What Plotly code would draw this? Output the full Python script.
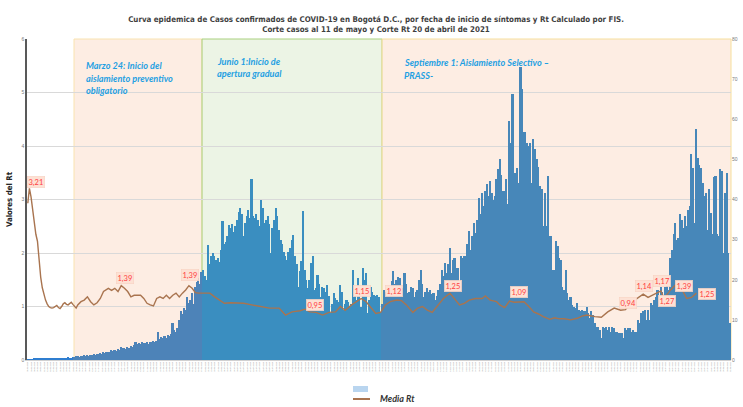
import plotly.graph_objects as go
import pandas as pd

# ---------------- DATA ----------------
start_date = "2020-03-01"

# daily confirmed cases by symptom-onset date, split in consecutive stretches
cases_pre_mar24 = [10, 15, 20, 25, 30, 40, 45, 50, 45, 50, 55, 50, 60, 55, 50,
                   60, 55, 50, 55, 60, 50, 55, 60, 50, 55, 65, 60, 55, 70]
cases_mar_may = [80, 90, 100, 85, 110, 95, 120, 100, 115, 105, 125,
                 130, 150, 120, 160, 140, 175, 150, 190, 170, 200,
                 210, 190, 240, 220, 260, 230, 280, 250, 330,
                 290, 310, 280, 330, 300, 350, 320, 370,
                 460, 400, 430, 410, 440, 420,
                 430, 450, 410, 460, 440, 470, 450, 480, 710,
                 520, 580, 540, 600, 560, 620, 590, 640, 920,
                 760, 700, 800,
                 1000, 1210, 1150, 1300, 1250,
                 1580, 1420, 1500, 1670, 1400, 1830,
                 1950, 2040, 1900, 2200]
cases_jun_jul = [2250, 2100, 2000, 2870, 2400, 2580, 2670, 2600, 2500, 2550,
                 2450, 2750, 3460, 2900, 2950, 3080, 3370, 3300, 3400, 3200,
                 3350, 3500, 3700, 3790, 3650, 3100, 3420, 3600, 3750, 3550,
                 4500, 3580, 3540, 3650, 3500, 3330]
cases_jul_dec = [4000, 3800, 3420, 3500, 3580, 3400, 2670, 3290, 3500, 3790,
                 3600, 3250, 3000, 2880, 2700, 2580, 2500, 2700, 2790, 3000,
                 3120, 2580, 2400, 1830, 2210, 2460, 3710, 2250, 2000, 1790,
                 2000, 2420, 2580, 1750, 1800, 2120, 1900, 1580, 1830, 1800,
                 1700, 1880, 1600, 1170, 1400, 1670, 1550, 1500, 1450, 1880,
                 1700, 1250, 1400, 1500, 1450, 1330, 1400, 2250, 1700, 1500,
                 2040, 1800, 1330, 2290, 2000, 2170, 1170, 1500, 1830, 1700,
                 1630, 1600, 1630, 1580, 1170, 1400, 1750, 1700, 1830, 1800,
                 1700, 1960, 2210, 1900, 2000, 2080, 2050, 1750, 1800, 2170,
                 1900, 1670, 1700, 1830, 1800, 1580, 1700, 1750, 2000, 2250,
                 1900, 1580, 1700, 1790, 1700, 1750, 1650, 1670, 1500, 1600,
                 1750, 1900, 2250, 2100, 2420, 2170, 2400, 2790, 2170, 2500,
                 2540, 2290, 2300, 1750, 2580, 2550, 2600, 2580, 2900, 3210,
                 2750, 3100, 3420, 3170, 3500, 4040, 3630, 4170, 3830, 4210,
                 4380, 4080, 4460, 4170, 4000]
cases_dec_may = [4080, 4500, 4750, 5000, 4600, 4210, 4210, 4500, 3900, 5960,
                 5420, 6630, 4670, 4670, 4790, 4420, 7290, 6750, 5670, 5670,
                 5420, 5330, 5420, 4420, 5500, 5250, 5000, 4800, 4330, 4250,
                 3330, 4150, 3330, 4580, 3080, 3080, 2250, 2250, 2960, 2830,
                 2540, 2500, 1830, 1750, 2250, 1670, 1500, 1580, 1380, 1330,
                 1290, 1420, 1250, 1210, 1250, 1230, 1230, 1330, 1170, 1040,
                 1210, 1130, 920, 830, 830, 750, 540, 830, 790, 830,
                 750, 830, 710, 830, 790, 710, 700, 670, 670, 670,
                 540, 790, 750, 790, 790, 710, 750, 710, 710, 1000,
                 920, 1170, 1210, 1250, 1000, 1250, 1000, 1420, 1380, 1500,
                 1580, 1750, 1500, 1830, 1700, 1580, 1830, 2080, 1750, 2540,
                 2750, 3130, 3420, 3000, 3040, 3630, 3500, 3290, 3580, 3330,
                 3750, 3830, 5130, 4790, 3420, 5750, 5030, 4850, 4790, 4400,
                 4080, 4170, 3250, 4250, 3670, 3130, 4560, 4580, 3130, 3080,
                 4750, 4710, 2670, 4170, 4670, 2670, 920]

# Media Rt (day offset from start_date, value)
rt_day = [0, 1, 2, 3, 4, 5, 6, 7, 8, 9, 10, 11, 12, 13, 14, 15, 16, 17, 18, 19,
          20, 21, 22, 23, 24, 25, 26, 27, 28, 29, 30, 31, 33, 35, 37, 39, 41, 43,
          45, 47, 50, 52, 54, 56, 58, 60, 62, 64, 66, 68, 70, 72, 74, 76, 78, 80,
          82, 84, 86, 88, 90, 92, 94, 96, 98, 100, 102, 104, 106, 110, 113, 116,
          119, 122, 126, 130, 134, 139, 144, 150, 156, 160, 164, 169, 172, 175,
          179, 183, 187, 191, 194, 197, 201, 204, 207, 210, 213, 216, 219, 222,
          225, 229, 232, 235, 239, 242, 245, 248, 251, 255, 258, 262, 265, 268,
          271, 274, 278, 282, 284, 287, 291, 293, 296, 299, 302, 305, 308, 311,
          314, 317, 320, 324, 327, 330, 333, 337, 341, 344, 347, 352, 356, 360,
          364, 368, 371, 374, 378, 382, 385, 388, 391, 393, 395, 399, 402, 405,
          409, 412, 415]
rt_value = [2.93, 3.21, 3.05, 2.78, 2.50, 2.35, 2.22, 1.81, 1.55, 1.35, 1.22, 1.12,
            1.05, 1.00, 0.98, 0.97, 0.98, 1.00, 1.02, 0.98, 0.96, 1.00, 1.05, 1.07,
            1.04, 1.03, 1.06, 1.08, 1.04, 1.00, 0.97, 1.03, 1.09, 1.12, 1.18, 1.09,
            1.03, 1.07, 1.15, 1.28, 1.34, 1.30, 1.34, 1.28, 1.39, 1.34, 1.28, 1.18,
            1.21, 1.21, 1.21, 1.15, 1.06, 1.03, 1.01, 1.15, 1.18, 1.15, 1.21, 1.15,
            1.21, 1.25, 1.18, 1.25, 1.31, 1.39, 1.34, 1.26, 1.25, 1.25, 1.25, 1.18,
            1.12, 1.06, 1.07, 1.07, 1.06, 1.03, 1.00, 0.97, 0.97, 0.84, 0.90, 0.92,
            0.95, 0.90, 0.89, 0.84, 0.89, 0.90, 1.00, 0.93, 1.03, 1.09, 1.15, 1.09,
            0.97, 0.87, 0.89, 1.03, 1.09, 1.12, 1.11, 1.03, 0.89, 0.97, 1.00, 0.93,
            0.89, 1.03, 1.15, 1.25, 1.15, 1.03, 1.06, 1.12, 1.15, 1.15, 1.20, 1.12,
            1.09, 1.03, 0.98, 1.10, 1.08, 1.09, 1.09, 1.00, 0.90, 0.86, 0.81, 0.76,
            0.79, 0.77, 0.77, 0.75, 0.78, 0.82, 0.84, 0.81, 0.80, 0.90, 0.97, 0.93,
            0.94, 1.06, 1.15, 1.23, 1.17, 1.21, 1.25, 1.29, 1.15, 1.31, 1.40, 1.38,
            1.15, 1.17, 1.25]

# labelled Rt values
rt_label_text = ["3,21", "1,39", "1,39", "0,95", "1,15", "1,12", "1,25",
                 "1,09", "0,94", "1,14", "1,17", "1,27", "1,39", "1,25"]

period_text = [["Marzo 24: Inicio del", "aislamiento preventivo", "obligatorio"],
               ["Junio 1:Inicio de", "apertura gradual"],
               ["Septiembre 1: Aislamiento Selectivo –", "PRASS-"]]

title_lines = ["Curva epidemica de Casos confirmados de COVID-19 en Bogotá D.C., por fecha de inicio de síntomas y Rt Calculado por FIS.",
               "Corte casos al 11 de mayo y Corte Rt 20 de abril de 2021"]
y_left_title = "Valores del Rt"
legend_line_name = "Media Rt"
rt_ticks = [0, 1, 2, 3, 4, 5, 6]
case_ticks = [0, 1000, 2000, 3000, 4000, 5000, 6000, 7000, 8000]
case_tick_text = ["0", "10", "20", "30", "40", "50", "60", "70", "80"]

# ---------------- BUILD ----------------
cases = cases_pre_mar24 + cases_mar_may + cases_jun_jul + cases_jul_dec + cases_dec_may
n = len(cases)
days = list(range(n))
dates = pd.date_range(start_date, periods=n, freq="D")

W, H = 743, 407
L, R, T, B = 27, 12, 39, 47
pw, ph = W - L - R, H - T - B


def px2day(px):
    return (px - L) * n / pw - 0.5


def py2rt(py):
    return (T + ph - py) * 6.0 / ph


# bar tint per shaded period (visual styling only)
b1 = px2day(74)
b2 = px2day(202)
b3 = px2day(382)
bar_colors = []
for d in days:
    if d < b1:
        bar_colors.append("#2f7ed0")
    elif d < b2:
        bar_colors.append("#4d83b8")
    elif d < b3:
        bar_colors.append("#3a8ec0")
    else:
        bar_colors.append("#4787b9")

fig = go.Figure()
fig.add_trace(go.Bar(x=days, y=cases, marker=dict(color=bar_colors, line=dict(width=0)),
                     yaxis="y", showlegend=False, name="Casos"))
fig.add_trace(go.Scatter(x=rt_day, y=rt_value, mode="lines", yaxis="y2",
                         line=dict(color="#a9744f", width=1.4), showlegend=False,
                         name=legend_line_name))

# shaded periods (pixel positions of the hand-drawn boxes)
boxes = [(74, 202, "rgba(251,226,210,0.62)", "#f9e3b0"),
         (202, 382, "rgba(224,236,212,0.6)", "#a9d07f"),
         (382, 731, "rgba(251,226,210,0.62)", "#f6df9c")]
shapes = []
for x0, x1, fc, lc in boxes:
    shapes.append(dict(type="rect", xref="paper", yref="paper",
                       x0=(x0 - L) / pw, x1=(x1 - L) / pw, y0=0, y1=1,
                       fillcolor=fc, line=dict(color=lc, width=1), layer="below"))

# legend (drawn manually to match the cropped legend)
shapes.append(dict(type="rect", xref="paper", yref="paper",
                   x0=(353 - L) / pw, x1=(368 - L) / pw,
                   y0=(T + ph - 392) / ph, y1=(T + ph - 386) / ph,
                   fillcolor="#b9d5ef", line=dict(width=0)))
shapes.append(dict(type="line", xref="paper", yref="paper",
                   x0=(353 - L) / pw, x1=(370 - L) / pw,
                   y0=(T + ph - 399) / ph, y1=(T + ph - 399) / ph,
                   line=dict(color="#a9744f", width=2)))

annotations = []
# Rt value labels
label_pos = [(36, 182), (125, 278), (190, 275), (315, 305), (362, 291), (394, 291),
             (453, 286), (519, 292), (628, 303), (644, 286), (662, 281), (667, 301),
             (684, 286), (707, 294)]
for txt, (lx, ly) in zip(rt_label_text, label_pos):
    annotations.append(dict(x=px2day(lx), y=py2rt(ly), xref="x", yref="y2", text=txt,
                            showarrow=False, font=dict(family="Lato, Arial", size=7.5,
                                                       color="#ff4040"),
                            bgcolor="#fde1d4", bordercolor="#f7cfbf", borderwidth=0.5,
                            borderpad=1))

# period notes
note_pos = [(84, [65, 78, 90]), (215, [61, 73]), (402, [62, 75])]
for lines, (nx, ys) in zip(period_text, note_pos):
    for line, yy in zip(lines, ys):
        annotations.append(dict(x=(nx - L) / pw, y=(T + ph - yy) / ph, xref="paper",
                                yref="paper", text="<b><i>" + line + "</i></b>",
                                showarrow=False, xanchor="left", yanchor="middle",
                                font=dict(family="Lato, Open Sans, sans-serif", size=9.1,
                                          color="#1fa0e2")))

annotations.append(dict(x=(378 - L) / pw, y=(T + ph - 399) / ph, xref="paper",
                        yref="paper", text="<b><i>" + legend_line_name + "</i></b>",
                        showarrow=False, xanchor="left", yanchor="middle",
                        font=dict(family="Lato, Arial", size=9, color="#333333")))

tick_days = days[::2]
tick_text = [dates[d].strftime("%d/%m/%Y") for d in tick_days]

narrow = "Liberation Sans Narrow, DejaVu Sans Condensed, Arial Narrow, sans-serif"

fig.update_layout(
    width=W, height=H,
    margin=dict(l=L, r=R, t=T, b=B, autoexpand=False),
    paper_bgcolor="white", plot_bgcolor="white",
    title=dict(text="<b>" + title_lines[0] + "<br>" + title_lines[1] + "</b>",
               x=376 / W, xanchor="center", y=1 - 21.5 / H, yanchor="middle",
               yref="container",
               font=dict(family=narrow, size=7.9, color="#3f3f3f")),
    bargap=0,
    shapes=shapes,
    annotations=annotations,
    hovermode=False,
    xaxis=dict(range=[-0.5, n - 0.5], tickmode="array", tickvals=tick_days,
               ticktext=tick_text, tickangle=-90, tickfont=dict(size=2, color="#9a9a9a"),
               showgrid=False, zeroline=False, showline=True, linecolor="#d0d0d0",
               ticks="", automargin=False),
    yaxis=dict(range=[0, 8000], side="right", tickmode="array", tickvals=case_ticks,
               ticktext=case_tick_text, showgrid=False, zeroline=False,
               tickfont=dict(size=5, color="#7a7a7a"), ticks="", automargin=False),
    yaxis2=dict(range=[0, 6], overlaying="y", side="left", tickmode="array",
                tickvals=rt_ticks, showgrid=True, gridcolor="#d9d9d9", gridwidth=1,
                zeroline=False, showline=True, linecolor="#595959", linewidth=1.5,
                tickfont=dict(size=5, color="#7a7a7a"), ticks="", automargin=False,
                title=dict(text="<b>" + y_left_title + "</b>", standoff=8,
                           font=dict(family=narrow, size=7.8, color="#222222"))),
    font=dict(family="Liberation Sans, Arial, sans-serif"),
)

fig.write_html("out.html", config={"displayModeBar": False},
               post_script="document.body.style.margin='0';")
